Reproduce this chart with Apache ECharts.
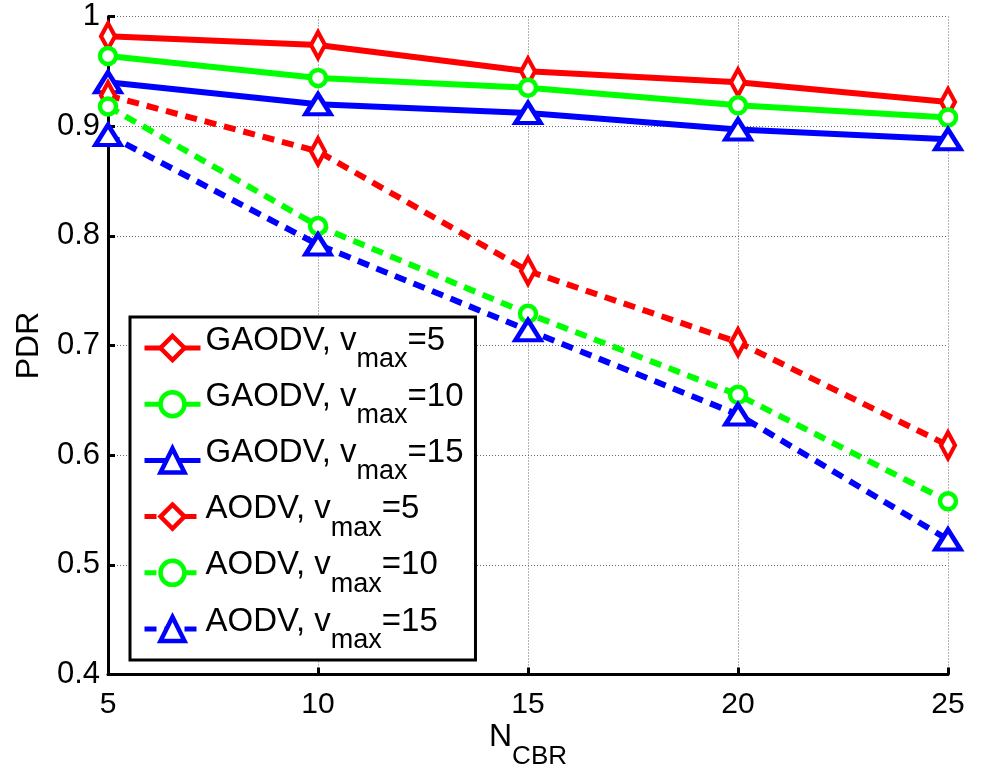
<!DOCTYPE html>
<html>
<head>
<meta charset="utf-8">
<script src="https://cdn.jsdelivr.net/npm/echarts@6/dist/echarts.min.js"></script>
<style>
  html, body { margin: 0; padding: 0; background: #fff; }
  #chart { width: 982px; height: 767px; }
</style>
</head>
<body>
<div id="chart"></div>
<script>
// Number of CBR connections
const nCbr = [5, 10, 15, 20, 25];

// Packet delivery ratio per protocol / max speed
const gaodvV5  = [0.982, 0.974, 0.950, 0.940, 0.922];
const gaodvV10 = [0.964, 0.944, 0.935, 0.919, 0.908];
const gaodvV15 = [0.940, 0.920, 0.912, 0.897, 0.888];
const aodvV5   = [0.928, 0.877, 0.768, 0.703, 0.609];
const aodvV10  = [0.918, 0.809, 0.729, 0.655, 0.558];
const aodvV15  = [0.892, 0.792, 0.714, 0.637, 0.523];

const protocols = ['GAODV', 'GAODV', 'GAODV', 'AODV', 'AODV', 'AODV'];
const vmax = [5, 10, 15, 5, 10, 15];
const seriesValues = [gaodvV5, gaodvV10, gaodvV15, aodvV5, aodvV10, aodvV15];

const yTicks = [0.4, 0.5, 0.6, 0.7, 0.8, 0.9, 1];
const xTicks = nCbr;

const colors = ['#ff0000', '#00ff00', '#0000ff', '#ff0000', '#00ff00', '#0000ff'];
const symbols = ['diamond', 'circle', 'triangle', 'diamond', 'circle', 'triangle'];
const symbolSizes = {
  diamond: [14, 26],
  circle: 16,
  triangle: [25, 20]
};

const FONT = '"Liberation Sans", Arial, Helvetica, sans-serif';

const names = protocols.map((p, i) => p + ', vmax=' + vmax[i]);
const richNames = {};
names.forEach((n, i) => {
  richNames[n] = '{a|' + protocols[i] + ', v}{s|max}{a|=' + vmax[i] + '}';
});

const series = seriesValues.map((vals, i) => ({
  name: names[i],
  type: 'line',
  data: vals.map((v, k) => [nCbr[k], v]),
  symbol: symbols[i],
  symbolSize: symbolSizes[symbols[i]],
  showSymbol: true,
  clip: false,
  animation: false,
  itemStyle: {
    color: '#ffffff',
    borderColor: colors[i],
    borderWidth: 4.5
  },
  lineStyle: {
    color: colors[i],
    width: 6,
    type: i < 3 ? 'solid' : [12, 8],
    cap: 'butt'
  },
  emphasis: { disabled: true }
}));

const chart = echarts.init(document.getElementById('chart'), null, { renderer: 'canvas' });

chart.setOption({
  animation: false,
  backgroundColor: '#ffffff',
  textStyle: { fontFamily: FONT },
  grid: {
    left: 108,
    right: 34,
    top: 16.5,
    bottom: 92.5,
    containLabel: false,
    outerBoundsMode: 'none'
  },
  xAxis: {
    type: 'value',
    min: xTicks[0],
    max: xTicks[xTicks.length - 1],
    interval: 5,
    name: '{n|N}{s|CBR}',
    nameLocation: 'middle',
    nameGap: 47,
    nameMoveOverlap: false,
    nameTextStyle: {
      color: '#000',
      rich: {
        n: { fontSize: 32, lineHeight: 34, verticalAlign: 'top', fontFamily: FONT, color: '#000' },
        s: { fontSize: 26, lineHeight: 26, padding: [22, 0, 0, 0], verticalAlign: 'top', fontFamily: FONT, color: '#000' }
      }
    },
    axisLine: { show: true, onZero: false, lineStyle: { color: '#000', width: 3 } },
    axisTick: { show: true, inside: true, length: 7, lineStyle: { color: '#000', width: 3 } },
    axisLabel: { color: '#000', fontSize: 30, margin: 15, fontFamily: FONT },
    splitLine: { show: true, lineStyle: { color: '#666', width: 1, type: [1, 2] } }
  },
  yAxis: {
    type: 'value',
    min: yTicks[0],
    max: yTicks[yTicks.length - 1],
    interval: 0.1,
    name: 'PDR',
    nameLocation: 'middle',
    nameGap: 63,
    nameMoveOverlap: false,
    nameTextStyle: { color: '#000', fontSize: 32, fontFamily: FONT },
    axisLine: { show: true, onZero: false, lineStyle: { color: '#000', width: 3 } },
    axisTick: { show: true, inside: true, length: 7, lineStyle: { color: '#000', width: 3 } },
    axisLabel: {
      color: '#000', fontSize: 31, margin: 8, fontFamily: FONT,
      formatter: v => String(Math.round(v * 10) / 10)
    },
    splitLine: { show: true, lineStyle: { color: '#666', width: 1, type: [1, 2] } }
  },
  legend: {
    orient: 'vertical',
    left: 130,
    top: 317,
    padding: [7, 12, 6, 12],
    itemGap: 7.2,
    itemWidth: 56,
    itemHeight: 30,
    selectedMode: false,
    backgroundColor: '#ffffff',
    borderColor: '#000',
    borderWidth: 3,
    borderRadius: 0,
    data: names,
    formatter: n => richNames[n],
    lineStyle: { width: 5 },
    itemStyle: { borderWidth: 4.5 },
    textStyle: {
      color: '#000',
      fontFamily: FONT,
      rich: {
        a: { fontSize: 33, lineHeight: 48, verticalAlign: 'top', fontFamily: FONT, color: '#000' },
        s: { fontSize: 27, lineHeight: 27, padding: [22, 0, 0, 0], verticalAlign: 'top', fontFamily: FONT, color: '#000' }
      }
    }
  },
  series: series
});
</script>
</body>
</html>
